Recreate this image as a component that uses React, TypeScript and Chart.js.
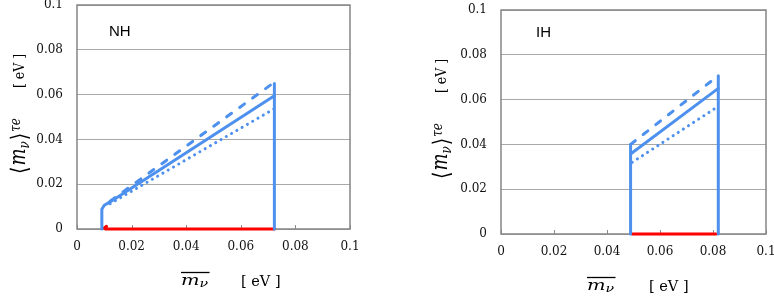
import React, { useEffect, useRef } from 'react';
import { Chart, registerables } from 'chart.js';

Chart.register(...registerables);

// ---------- data ----------
const xTicks = [0, 0.02, 0.04, 0.06, 0.08, 0.1];
const yTicks = [0, 0.02, 0.04, 0.06, 0.08, 0.1];

// NH panel
const nhSolidX = [0.0091, 0.0091, 0.01, 0.0121, 0.0723];
const nhSolidY = [0, 0.0088, 0.0106, 0.0121, 0.0595];
const nhEdgeX = [0.0723, 0.0723];
const nhEdgeY = [0, 0.065];
const nhDashedX = [0.0121, 0.0723];
const nhDashedY = [0.0124, 0.0655];
const nhDottedX = [0.0121, 0.0723];
const nhDottedY = [0.0113, 0.0537];
const nhRedX = [0.0108, 0.0099, 0.0104, 0.0723];
const nhRedY = [0.0012, 0.0004, 0, 0];

// IH panel
const ihLeftEdgeX = [0.0489, 0.0489];
const ihLeftEdgeY = [0, 0.04];
const ihSolidX = [0.0489, 0.082];
const ihSolidY = [0.0357, 0.065];
const ihDashedX = [0.0489, 0.082];
const ihDashedY = [0.04, 0.0707];
const ihDottedX = [0.0495, 0.082];
const ihDottedY = [0.032, 0.057];
const ihRightEdgeX = [0.082, 0.082];
const ihRightEdgeY = [0, 0.0707];
const ihRedX = [0.0495, 0.0812];
const ihRedY = [0, 0];

const BLUE = 'rgb(77,144,238)';
const RED = 'rgb(255,0,0)';
const TICK_FONT = { family: '"DejaVu Serif"', size: 12 };

type Kind = 'solid' | 'dashed' | 'dotted' | 'red';

function ds(xs: number[], ys: number[], kind: Kind) {
  const d: any = {
    data: xs.map((x, i) => ({ x, y: ys[i] })),
    showLine: true,
    pointRadius: 0,
    pointHoverRadius: 0,
    borderWidth: 3,
    borderColor: kind === 'red' ? RED : BLUE,
    backgroundColor: kind === 'red' ? RED : BLUE,
    borderCapStyle: 'round',
    borderJoinStyle: 'round',
    tension: 0,
    fill: false,
    clip: false,
  };
  if (kind === 'dashed') d.borderDash = [6, 10];
  if (kind === 'dotted') d.borderDash = [0.1, 6];
  return d;
}

type Part = { t: string; f: string; dy: number; dx?: number };

function drawRun(ctx: CanvasRenderingContext2D, parts: Part[]) {
  let u = 0;
  for (const p of parts) {
    ctx.font = p.f;
    u += p.dx || 0;
    ctx.fillText(p.t, u, p.dy);
    u += ctx.measureText(p.t).width;
  }
  return u;
}

interface PanelProps {
  w: number;
  h: number;
  area: { left: number; right: number; top: number; bottom: number };
  datasets: any[];
  label: string;
  labelX: number;
  labelY: number;
  yTitleX: number;
  yTitleBottom: number;
  yUnitX: number;
  yUnitBottom: number;
  xTitleX: number;
  xTitleBase: number;
  xUnitX: number;
  xUnitBase: number;
}

function Panel(p: PanelProps) {
  const ref = useRef<HTMLCanvasElement | null>(null);
  useEffect(() => {
    if (!ref.current) return;
    const decor = {
      id: 'decor',
      beforeDatasetsDraw(chart: any) {
        const { ctx, chartArea: a, scales } = chart;
        ctx.save();
        ctx.strokeStyle = '#8a8a8a';
        ctx.lineWidth = 1;
        xTicks.forEach((v) => {
          const px = Math.round(scales.x.getPixelForValue(v)) + 0.5;
          ctx.beginPath();
          ctx.moveTo(px, a.bottom);
          ctx.lineTo(px, a.bottom - 4);
          ctx.stroke();
        });
        ctx.strokeStyle = '#858585';
        ctx.lineWidth = 1.5;
        ctx.strokeRect(a.left, a.top, a.right - a.left, a.bottom - a.top);
        ctx.restore();
      },
      afterDraw(chart: any) {
        const ctx: CanvasRenderingContext2D = chart.ctx;
        ctx.save();
        ctx.fillStyle = '#000';
        ctx.strokeStyle = '#000';
        // panel label
        ctx.font = '15px "Liberation Sans"';
        ctx.textBaseline = 'middle';
        ctx.textAlign = 'left';
        ctx.fillText(p.label, p.labelX, p.labelY);
        ctx.textBaseline = 'alphabetic';

        // y-axis title (rotated)
        ctx.save();
        ctx.translate(p.yTitleX, p.yTitleBottom);
        ctx.rotate(-Math.PI / 2);
        ctx.scale(1, 1.2);
        drawRun(ctx, [
          { t: '\u27E8', f: '19px "DejaVu Sans"', dy: 2 },
          { t: 'm', f: 'italic 18px "DejaVu Serif"', dy: 0, dx: 1 },
          { t: '\u03BD', f: 'italic 12px "DejaVu Serif"', dy: 3 },
          { t: '\u27E9', f: '19px "DejaVu Sans"', dy: 2, dx: 1 },
          { t: '\u03C4e', f: 'italic 12px "DejaVu Serif"', dy: -4, dx: 1 },
        ]);
        ctx.restore();
        ctx.save();
        ctx.translate(p.yUnitX, p.yUnitBottom);
        ctx.rotate(-Math.PI / 2);
        ctx.scale(1, 1.15);
        drawRun(ctx, [{ t: '[ eV ]', f: '12.5px "DejaVu Serif"', dy: 0 }]);
        ctx.restore();

        // x-axis title
        ctx.save();
        ctx.translate(p.xTitleX, p.xTitleBase);
        ctx.scale(1.35, 1);
        const end = drawRun(ctx, [
          { t: 'm', f: 'italic 14.5px "DejaVu Serif"', dy: 0 },
          { t: '\u03BD', f: 'italic 10.5px "DejaVu Serif"', dy: 2 },
        ]);
        ctx.lineWidth = 1.3;
        ctx.beginPath();
        ctx.moveTo(0, -12.5);
        ctx.lineTo(end + 1, -12.5);
        ctx.stroke();
        ctx.restore();
        ctx.font = '14.5px "DejaVu Serif"';
        ctx.fillText('[ eV ]', p.xUnitX, p.xUnitBase);
        ctx.restore();
      },
    };

    const chart = new Chart(ref.current, {
      type: 'scatter',
      data: { datasets: p.datasets },
      options: {
        animation: false,
        responsive: false,
        maintainAspectRatio: false,
        events: [],
        layout: { padding: { left: 0, top: p.area.top, right: p.w - p.area.right, bottom: 0 } },
        plugins: { legend: { display: false }, tooltip: { enabled: false } },
        scales: {
          x: {
            type: 'linear',
            position: 'bottom',
            min: 0,
            max: 0.1,
            afterBuildTicks: (s: any) => {
              s.ticks = xTicks.map((v) => ({ value: v }));
            },
            afterFit: (s: any) => {
              s.height = p.h - p.area.bottom;
              s.paddingLeft = 0;
              s.paddingRight = 0;
              s.paddingTop = 0;
              s.paddingBottom = 0;
            },
            grid: { display: false, drawTicks: false },
            border: { display: false },
            ticks: {
              padding: 11,
              font: TICK_FONT,
              color: '#111',
              maxRotation: 0,
              autoSkip: false,
              callback: (v: any) => String(v),
            },
          },
          y: {
            type: 'linear',
            position: 'left',
            min: 0,
            max: 0.1,
            afterBuildTicks: (s: any) => {
              s.ticks = yTicks.map((v) => ({ value: v }));
            },
            afterFit: (s: any) => {
              s.width = p.area.left;
              s.paddingLeft = 0;
              s.paddingRight = 0;
              s.paddingTop = 0;
              s.paddingBottom = 0;
            },
            grid: { color: '#a8a8a8', lineWidth: 1, drawTicks: false },
            border: { display: false },
            ticks: {
              padding: 14,
              font: TICK_FONT,
              color: '#111',
              autoSkip: false,
              callback: (v: any) => String(v),
            },
          },
        },
      } as any,
      plugins: [decor],
    });
    return () => chart.destroy();
  }, []);
  return (
    <canvas
      ref={ref}
      width={p.w}
      height={p.h}
      style={{ width: p.w, height: p.h, display: 'block' }}
    />
  );
}

export default function App() {
  const nhSets = [
    ds(nhEdgeX, nhEdgeY, 'solid'),
    ds(nhSolidX, nhSolidY, 'solid'),
    ds(nhDashedX, nhDashedY, 'dashed'),
    ds(nhDottedX, nhDottedY, 'dotted'),
    ds(nhRedX, nhRedY, 'red'),
  ];
  const ihSets = [
    ds(ihRightEdgeX, ihRightEdgeY, 'solid'),
    ds(ihLeftEdgeX, ihLeftEdgeY, 'solid'),
    ds(ihSolidX, ihSolidY, 'solid'),
    ds(ihDashedX, ihDashedY, 'dashed'),
    ds(ihDottedX, ihDottedY, 'dotted'),
    ds(ihRedX, ihRedY, 'red'),
  ];
  return (
    <div
      style={{
        position: 'absolute',
        left: 0,
        top: 0,
        width: 774,
        height: 296,
        display: 'flex',
        background: '#fff',
        overflow: 'hidden',
      }}
    >
      <Panel
        w={390}
        h={296}
        area={{ left: 77, right: 350, top: 5, bottom: 229 }}
        datasets={nhSets}
        label="NH"
        labelX={109}
        labelY={32}
        yTitleX={25}
        yTitleBottom={174}
        yUnitX={24}
        yUnitBottom={88}
        xTitleX={181}
        xTitleBase={285}
        xUnitX={241}
        xUnitBase={286}
      />
      <Panel
        w={384}
        h={296}
        area={{ left: 111, right: 376, top: 10, bottom: 234 }}
        datasets={ihSets}
        label="IH"
        labelX={146}
        labelY={33}
        yTitleX={57}
        yTitleBottom={179}
        yUnitX={56}
        yUnitBottom={93}
        xTitleX={197}
        xTitleBase={290}
        xUnitX={259}
        xUnitBase={291}
      />
    </div>
  );
}
